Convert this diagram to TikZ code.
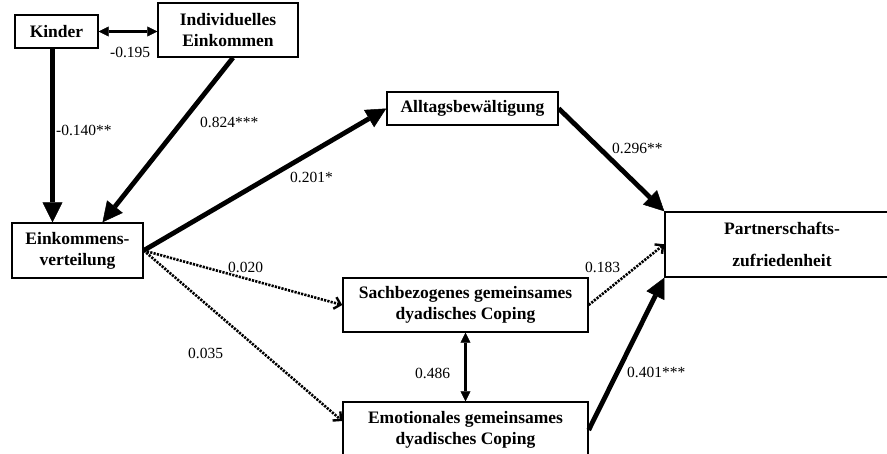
\documentclass[tikz,border=0pt]{standalone}
\usepackage{fontspec}
\setmainfont{Liberation Serif}
\usetikzlibrary{arrows.meta}

\begin{document}
\begin{tikzpicture}[
  x=1pt,
  y=-1pt,
  font=\fontsize{15.5}{19}\selectfont,
  var/.style={draw=black, line width=1.4pt, fill=white, align=center, inner sep=2pt,
    font=\fontsize{17.5}{21}\selectfont\bfseries},
  strong/.style={-{Triangle[length=20pt,width=20pt,line width=0.5pt]}, line width=4.8pt},
  weak/.style={-{Straight Barb[length=6pt,width=12pt,line width=2.4pt]}, line width=2.6pt,
    dash pattern=on 2.2pt off 1.2pt},
  cov/.style={{Triangle[length=10pt,width=10pt,line width=0.5pt]}-{Triangle[length=10pt,width=10pt,line width=0.5pt]},
    line width=2.6pt},
  coef/.style={anchor=west, inner sep=0pt}
]

\useasboundingbox (0,0) rectangle (887,454);
\clip (0,0) rectangle (887,454);

% variables
\node[var, minimum width=83, minimum height=33] (kinder) at (56.5,31.5) {Kinder};
\node[var, minimum width=140, minimum height=54] (indiv) at (228,30)
  {Individuelles\\Einkommen};
\node[var, minimum width=131, minimum height=55] (eink) at (77.5,250.5)
  {Einkommens-\\verteilung};
\node[var, minimum width=171, minimum height=33] (alltag) at (472.5,108.5)
  {Alltagsbewältigung};
\node[var, minimum width=245, minimum height=54] (sach) at (465.5,305)
  {Sachbezogenes gemeinsames\\dyadisches Coping};
\node[var, minimum width=245, minimum height=56] (emo) at (465.5,430)
  {Emotionales gemeinsames\\dyadisches Coping};
\node[var, minimum width=234, minimum height=65, font=\fontsize{17.5}{32}\selectfont\bfseries]
  (partner) at (782,244.5) {Partnerschafts-\\zufriedenheit};

% paths
\draw[cov] (kinder.east) -- (kinder.east -| indiv.west);
\draw[strong] ([xshift=-4pt]kinder.south) -- ([xshift=-4pt]kinder.south |- eink.north);
\draw[strong] ([xshift=5pt]indiv.south) -- ([xshift=25pt]eink.north);
\draw[strong] (eink.east) -- (alltag.west);
\draw[weak] (eink.east) -- (sach.west);
\draw[weak] (eink.east) -- ([yshift=9pt]emo.west);
\draw[strong] (alltag.east) -- (partner.north west);
\draw[weak] (sach.east) -- ([yshift=-33pt]partner.north west);
\draw[strong] (emo.east) -- (partner.south west);
\draw[cov] (sach.south) -- (emo.north);

% coefficients
\node[coef] (c_ki) at (110,52) {-0.195};
\node[coef] (c_ke) at (56,130) {-0.140**};
\node[coef] (c_ie) at (200,122) {0.824***};
\node[coef] (c_ea) at (290,177) {0.201*};
\node[coef] (c_ap) at (612,148) {0.296**};
\node[coef] (c_es) at (228,267) {0.020};
\node[coef] (c_em) at (188,353) {0.035};
\node[coef] (c_sp) at (585,267) {0.183};
\node[coef] (c_se) at (415,373) {0.486};
\node[coef] (c_mp) at (627,372) {0.401***};

\end{tikzpicture}
\end{document}
